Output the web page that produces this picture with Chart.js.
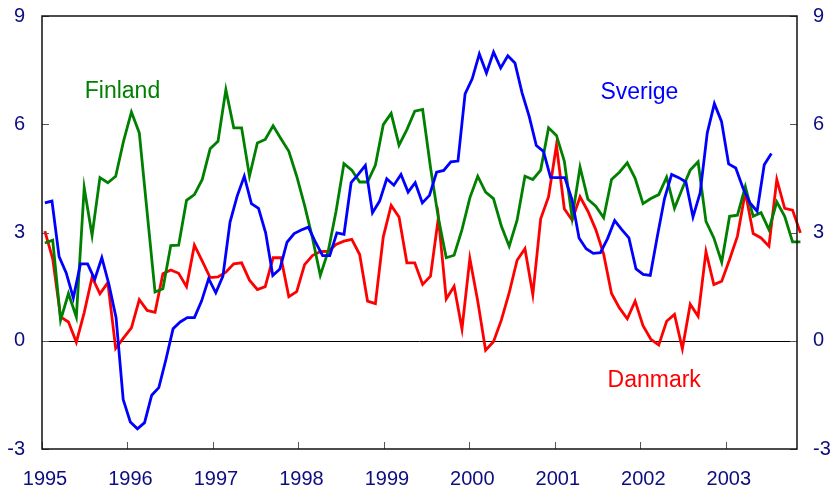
<!DOCTYPE html>
<html><head><meta charset="utf-8">
<script src="https://cdn.jsdelivr.net/npm/chart.js@4"></script>
<style>html,body{margin:0;padding:0;background:#fff}#wrap{width:831px;height:491px}</style>
</head><body><div id="wrap"><canvas id="c" width="831" height="491"></canvas></div>
<script>
const yearLabels = ["1995","1996","1997","1998","1999","2000","2001","2002","2003"];
const yTickValues = [-3, 0, 3, 6, 9];
const seriesNames = ["Sverige", "Finland", "Danmark"];

// Sverige: monthly (103 observations)
const sverige = [
 3.82,3.87,2.33,1.88,1.19,2.13,2.13,1.70,2.30,1.56,0.64,-1.63,
 -2.25,-2.44,-2.27,-1.51,-1.30,-0.52,0.33,0.52,0.64,0.64,1.10,1.72,
 1.33,1.79,3.29,4.01,4.56,3.80,3.67,2.99,1.81,1.99,2.73,2.97,
 3.07,3.15,2.73,2.36,2.36,2.99,2.95,4.38,4.61,4.86,3.55,3.87,
 4.49,4.31,4.61,4.12,4.38,3.82,4.03,4.67,4.72,4.96,4.98,6.84,
 7.26,7.95,7.42,8.00,7.56,7.90,7.70,6.87,6.22,5.41,5.25,4.53,
 4.52,4.52,3.92,2.85,2.55,2.42,2.44,2.83,3.33,3.08,2.85,1.99,
 1.84,1.81,2.90,3.94,4.61,4.52,4.40,3.43,4.10,5.76,6.57,6.08,
 4.90,4.79,4.24,3.82,3.59,4.88,5.19
];

// Finland (97 observations)
const finland = [
 2.71,2.79,0.57,1.31,0.66,4.24,2.92,4.52,4.38,4.56,5.53,6.34,
 5.76,3.55,1.35,1.44,2.64,2.65,3.89,4.05,4.47,5.32,5.53,6.96,
 5.90,5.90,4.56,5.48,5.58,5.96,5.60,5.25,4.56,3.75,2.85,1.81,
 2.48,3.59,4.91,4.73,4.40,4.40,4.87,5.99,6.30,5.42,5.85,6.36,
 6.41,4.80,3.40,2.30,2.37,3.08,3.96,4.56,4.12,3.94,3.18,2.62,
 3.34,4.56,4.47,4.73,5.90,5.69,4.98,3.41,4.81,3.92,3.73,3.41,
 4.47,4.67,4.93,4.50,3.80,3.94,4.05,4.53,3.67,4.22,4.73,4.96,
 3.31,2.85,2.18,3.45,3.48,4.27,3.45,3.55,3.08,3.85,3.45,2.74,
 2.74
];

// Danmark (97 observations)
const danmark = [
 3.04,2.27,0.66,0.52,-0.04,0.78,1.76,1.30,1.61,-0.21,0.08,0.36,
 1.14,0.84,0.79,1.86,1.96,1.87,1.50,2.65,2.21,1.75,1.77,1.90,
 2.13,2.16,1.68,1.42,1.50,2.30,2.30,1.22,1.36,2.11,2.36,2.47,
 2.48,2.67,2.76,2.81,2.39,1.10,1.03,2.88,3.75,3.43,2.16,2.16,
 1.56,1.79,3.41,1.16,1.51,0.33,2.28,1.10,-0.26,-0.03,0.57,1.33,
 2.23,2.55,1.28,3.38,3.99,5.42,3.66,3.34,3.99,3.59,3.08,2.40,
 1.31,0.91,0.61,1.10,0.42,0.04,-0.12,0.54,0.73,-0.22,1.01,0.68,
 2.47,1.56,1.65,2.25,2.90,4.12,2.97,2.85,2.62,4.47,3.67,3.62,
 2.99
];

// series label anchors (data units)
const seriesLabelX = [78.4, 6.0, 79.4];
const seriesLabelY = [6.70, 6.73, -1.27];

const NAVY = '#0d0d80';
const FONT = '"Liberation Sans", Arial, sans-serif';
const colors = ['#0000ff', '#008000', '#ff0000'];

const monthly = sverige.map((v, i) => ({x: i + 0.4, y: v}));
const STEP = 1.105;
const fin = finland.map((v, j) => ({x: 0.4 + j * STEP, y: v}));
const dk = danmark.map((v, j) => ({x: 0.4 + j * STEP, y: v}));

const framePlugin = {
  id: 'frame',
  beforeDatasetsDraw(chart) {
    const {ctx, chartArea: a, scales} = chart;
    const y0 = scales.y.getPixelForValue(0);
    ctx.save();
    ctx.strokeStyle = '#000';
    ctx.lineWidth = 1;
    ctx.beginPath();
    ctx.moveTo(a.left, Math.round(y0) + 0.5);
    ctx.lineTo(a.right, Math.round(y0) + 0.5);
    ctx.stroke();
    ctx.restore();
  },
  afterDatasetsDraw(chart) {
    const {ctx, chartArea: a, scales} = chart;
    ctx.save();
    ctx.strokeStyle = '#555';
    ctx.lineWidth = 1;
    ctx.beginPath();
    yTickValues.forEach(v => {
      const py = Math.round(scales.y.getPixelForValue(v)) + 0.5;
      ctx.moveTo(a.left, py); ctx.lineTo(a.left + 7, py);
      ctx.moveTo(a.right, py); ctx.lineTo(a.right - 7, py);
    });
    yearLabels.forEach((_, k) => {
      const px = Math.round(scales.x.getPixelForValue(k * 12)) + 0.5;
      ctx.moveTo(px, a.bottom); ctx.lineTo(px, a.bottom - 7);
    });
    ctx.stroke();
    ctx.strokeStyle = '#111';
    ctx.lineWidth = 1.5;
    ctx.strokeRect(a.left, a.top, a.right - a.left, a.bottom - a.top);
    // series labels
    ctx.font = '23px ' + FONT;
    ctx.textAlign = 'left';
    ctx.textBaseline = 'alphabetic';
    seriesNames.forEach((n, k) => {
      ctx.fillStyle = colors[k];
      ctx.fillText(n, scales.x.getPixelForValue(seriesLabelX[k]), scales.y.getPixelForValue(seriesLabelY[k]));
    });
    ctx.restore();
  }
};

const yAxisCommon = {
  type: 'linear', min: -3, max: 9,
  grid: {display: false, drawTicks: false},
  border: {display: false},
  afterBuildTicks: s => { s.ticks = yTickValues.map(v => ({value: v})); },
};

new Chart(document.getElementById('c'), {
  type: 'line',
  data: {
    datasets: [
      {label: seriesNames[0], data: monthly, borderColor: colors[0]},
      {label: seriesNames[1], data: fin, borderColor: colors[1]},
      {label: seriesNames[2], data: dk, borderColor: colors[2]},
    ].map(d => Object.assign(d, {borderWidth: 2.8, pointRadius: 0, tension: 0, fill: false, clip: 5, borderJoinStyle: 'miter'}))
  },
  options: {
    responsive: false, animation: false, devicePixelRatio: 1,
    layout: {padding: {top: 16, left: 0, right: 0, bottom: 0}},
    plugins: {legend: {display: false}, tooltip: {enabled: false}},
    scales: {
      x: {
        type: 'linear', min: 0, max: 106, position: 'bottom',
        grid: {display: false, drawTicks: false}, border: {display: false},
        afterBuildTicks: s => { s.ticks = yearLabels.map((_, k) => ({value: k * 12})); },
        afterFit: s => { s.height = 42; },
        ticks: {autoSkip: false, maxRotation: 0, padding: 18, labelOffset: 3,
          color: NAVY, font: {family: FONT, size: 20},
          callback: v => yearLabels[Math.round(v / 12)]}
      },
      y: Object.assign({}, yAxisCommon, {
        position: 'left',
        afterFit: s => { s.width = 42; s.paddingTop = 0; s.paddingBottom = 0; },
        ticks: {padding: 17, color: NAVY, font: {family: FONT, size: 20}}
      }),
      y2: Object.assign({}, yAxisCommon, {
        position: 'right',
        afterFit: s => { s.width = 34; s.paddingTop = 0; s.paddingBottom = 0; },
        ticks: {padding: 16, color: NAVY, font: {family: FONT, size: 20}}
      })
    }
  },
  plugins: [framePlugin]
});
</script>
</body></html>
